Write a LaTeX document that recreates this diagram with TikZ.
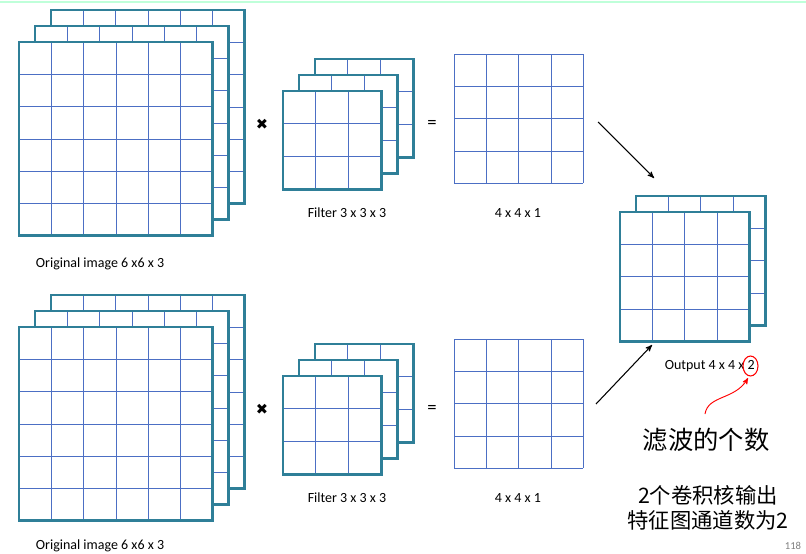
\documentclass[tikz,border=0pt]{standalone}
\usepackage{fontspec}
\setmainfont{Carlito}
\newfontfamily\cjk{Noto Sans CJK SC}
\newfontfamily\symb{DejaVu Sans}
\usetikzlibrary{arrows}

\definecolor{frametal}{HTML}{2F7F98}
\definecolor{gridblue}{HTML}{4C6FC4}

% one layer: x, y (top left), cells, cell size
\newcommand\gridlayer[4]{%
  \fill[white] (#1,#2) rectangle ++(#3*#4,#3*#4);
  \foreach \k in {1,...,\numexpr#3-1\relax} {
    \draw[gridline] (#1+\k*#4,#2) -- ++(0,#3*#4);
    \draw[gridline] (#1,#2+\k*#4) -- ++(#3*#4,0);
  }
  \draw[frame] (#1,#2) rectangle ++(#3*#4,#3*#4);
}
\newcommand\flatgrid[4]{%
  \foreach \k in {0,...,#3} {
    \draw[gridline] (#1+\k*#4,#2) -- ++(0,#3*#4);
    \draw[gridline] (#1,#2+\k*#4) -- ++(#3*#4,0);
  }
}

\begin{document}
\begin{tikzpicture}[
    x=0.75pt, y=-0.75pt,
    >=stealth',
    frame/.style = {draw = frametal, line width = 2.2pt},
    gridline/.style = {draw = gridblue, line width = 0.6pt},
    lbl/.style = {font = \fontsize{10.5}{11}\selectfont, inner sep = 0pt},
    op/.style = {font = \symb\fontsize{11}{11}\selectfont, inner sep = 0pt}
  ]
  \useasboundingbox (0,0) rectangle (806,553);
  \draw[green!60!cyan!25, line width=2pt] (0,2) -- (806,2);

  % two rows
  \foreach \r/\dy in {top/0, bot/285} {
    \gridlayer{51}{10+\dy}{6}{32.3}
    \gridlayer{35}{26+\dy}{6}{32.3}
    \gridlayer{19}{42+\dy}{6}{32.3}
    \gridlayer{315}{59+\dy}{3}{32.7}
    \gridlayer{299}{75+\dy}{3}{32.7}
    \gridlayer{283}{91+\dy}{3}{32.7}
    \flatgrid{454}{54+\dy}{4}{32.3}
    \node[op] (times\r) at (262,124+\dy) {✖};
    \node[lbl, font=\fontsize{14}{14}\selectfont] (eq\r) at (432,124+\dy) {=};
    \node[lbl] (filt\r) at (347,213+\dy) {Filter 3 x 3 x 3};
    \node[lbl] (one\r) at (518,213+\dy) {4 x 4 x 1};
  }
  \node[lbl] (origtop) at (100,264) {Original image 6 x6 x 3};
  \node[lbl] (origbot) at (100,546) {Original image 6 x6 x 3};

  % output
  \gridlayer{636}{196}{4}{32.3}
  \gridlayer{620}{212}{4}{32.3}
  \node[lbl, anchor=east] (out) at (755,366) {Output 4 x 4 x 2};
  \draw[red, line width=0.8pt] (750.5,366) ellipse (7.5 and 10);

  \coordinate (a1) at (598,122);
  \coordinate (a2) at (654,178);
  \coordinate (b1) at (596,404);
  \coordinate (b2) at (652,345);
  \draw[->, line width=0.8pt] (a1) -- (a2);
  \draw[->, line width=0.8pt] (b1) -- (b2);

  \node[inner sep=0pt, font=\cjk\fontsize{19}{19}\selectfont] (num) at (706,440) {滤波的个数};
  \coordinate (c1) at (705,414);
  \coordinate (c2) at (748,378);
  \draw[->, red, line width=0.7pt] (c1) .. controls (708,395) and (735,400) .. (c2);

  \node[inner sep=0pt, align=center, font=\cjk\fontsize{16}{19}\selectfont] (note) at (708,508) {2个卷积核输出\\特征图通道数为2};
  \node[inner sep=0pt, gray, font=\fontsize{8}{8}\selectfont] (page) at (793,546) {118};
\end{tikzpicture}
\end{document}
